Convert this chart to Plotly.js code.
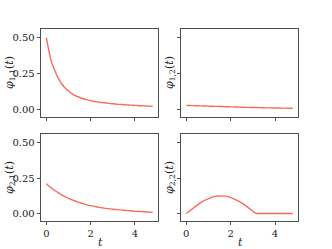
<!DOCTYPE html>
<html>
<head>
<meta charset="utf-8">
<script src="https://cdn.plot.ly/plotly-3.0.1.min.js"></script>
<style>html,body{margin:0;padding:0;background:#fff;}#chart{width:332px;height:249px;}</style>
</head>
<body>
<div id="chart"></div>
<script>
// time grid
const t = [0,0.1,0.2,0.3,0.4,0.5,0.6,0.7,0.8,0.9,1.0,1.2,1.4,1.6,1.8,2.0,2.2,2.4,2.6,2.8,3.0,3.2,3.4,3.6,3.8,4.0,4.2,4.4,4.6,4.8];
const phi11 = [0.50,0.42,0.35,0.30,0.265,0.228,0.20,0.177,0.158,0.142,0.128,0.105,0.090,0.078,0.068,0.061,0.055,0.050,0.046,0.042,0.039,0.036,0.034,0.032,0.030,0.028,0.026,0.025,0.023,0.022];
const phi12 = [0.028,0.0275,0.027,0.0265,0.026,0.0255,0.025,0.0245,0.024,0.0235,0.023,0.022,0.021,0.020,0.019,0.018,0.017,0.016,0.015,0.014,0.0135,0.013,0.012,0.011,0.0105,0.010,0.0095,0.009,0.0085,0.008];
const phi21 = [0.21,0.196,0.183,0.171,0.16,0.15,0.14,0.131,0.122,0.114,0.107,0.094,0.082,0.072,0.063,0.055,0.049,0.043,0.038,0.034,0.030,0.027,0.024,0.021,0.019,0.016,0.014,0.012,0.010,0.008];
const tBump = [0,0.2,0.4,0.6,0.8,1.0,1.2,1.4,1.6,1.8,2.0,2.2,2.4,2.6,2.8,3.0,3.14,3.4,3.6,3.8,4.0,4.2,4.4,4.6,4.8];
const phi22 = [0,0.025,0.049,0.071,0.090,0.105,0.117,0.123,0.125,0.122,0.114,0.101,0.084,0.064,0.042,0.018,0,0,0,0,0,0,0,0,0];
const yTicks = [0, 0.25, 0.5];
const yTickText = ["0.00","0.25","0.50"];
const xTicks = [0, 2, 4];
const xTickText = ["0","2","4"];
const yTitles = ["<i>φ</i><sub>1,1</sub>(<i>t</i>)","<i>φ</i><sub>1,2</sub>(<i>t</i>)","<i>φ</i><sub>2,1</sub>(<i>t</i>)","<i>φ</i><sub>2,2</sub>(<i>t</i>)"];
const xTitle = "<i>t</i>";

const col = '#f96b5f';
const line = {color: col, width: 1.4, shape: 'spline', smoothing: 0.5};
const traces = [
  {x: t, y: phi11, xaxis: 'x', yaxis: 'y', mode: 'lines', line: line},
  {x: t, y: phi12, xaxis: 'x2', yaxis: 'y2', mode: 'lines', line: line},
  {x: t, y: phi21, xaxis: 'x3', yaxis: 'y3', mode: 'lines', line: line},
  {x: tBump, y: phi22, xaxis: 'x4', yaxis: 'y4', mode: 'lines', line: {color: col, width: 1.4}}
];

const font = {family: '"DejaVu Serif", serif', size: 10, color: '#222'};
const tfont = {family: '"DejaVu Serif", serif', size: 11, color: '#222'};
function xa(domain, anchor, labels) {
  return {domain: domain, anchor: anchor, range: [-0.24, 5.04], tickvals: xTicks, ticktext: xTickText,
    showticklabels: labels, ticks: 'outside', ticklen: 3.5, tickwidth: 0.8, tickcolor: '#222',
    showline: true, mirror: true, linecolor: '#222', linewidth: 0.8, showgrid: false, zeroline: false,
    tickfont: font};
}
function ya(domain, anchor, labels) {
  return {domain: domain, anchor: anchor, range: [-0.053, 0.56], tickvals: yTicks, ticktext: yTickText,
    showticklabels: labels, ticks: 'outside', ticklen: 3.5, tickwidth: 0.8, tickcolor: '#222',
    showline: true, mirror: true, linecolor: '#222', linewidth: 0.8, showgrid: false, zeroline: false,
    tickfont: font};
}
const W = 332, H = 249;
const dL = [0.1235, 0.476], dR = [0.545, 0.898];
const dT = [0.530, 0.8835], dB = [0.1124, 0.4618];
function ann(text, px, py, angle) {
  return {text: text, xref: 'paper', yref: 'paper', x: px / W, y: 1 - py / H,
    xanchor: 'center', yanchor: 'middle', showarrow: false, textangle: angle, font: tfont};
}
const layout = {
  width: W, height: H, margin: {l: 0, r: 0, t: 0, b: 0}, showlegend: false,
  paper_bgcolor: '#fff', plot_bgcolor: '#fff', font: font,
  xaxis: xa(dL, 'y', false), yaxis: ya(dT, 'x', true),
  xaxis2: xa(dR, 'y2', false), yaxis2: ya(dT, 'x2', false),
  xaxis3: xa(dL, 'y3', true), yaxis3: ya(dB, 'x3', true),
  xaxis4: xa(dR, 'y4', true), yaxis4: ya(dB, 'x4', false),
  annotations: [
    ann(yTitles[0], 10, 73, -90), ann(yTitles[1], 170, 73, -90),
    ann(yTitles[2], 10, 178, -90), ann(yTitles[3], 170, 178, -90),
    ann(xTitle, 100, 242, 0), ann(xTitle, 240, 242, 0)
  ]
};
Plotly.newPlot('chart', traces, layout, {staticPlot: true, displayModeBar: false});
</script>
</body>
</html>
